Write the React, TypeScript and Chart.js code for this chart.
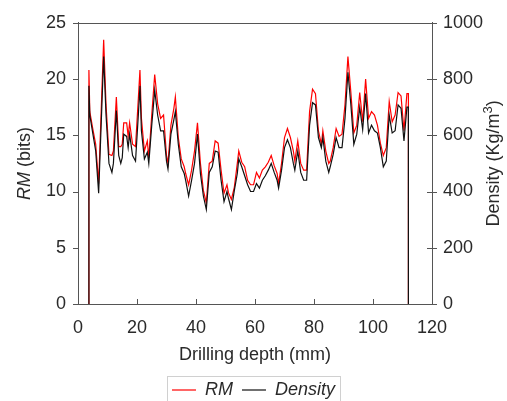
import { useEffect, useRef } from 'react';
import { Chart, registerables } from 'chart.js';

Chart.register(...registerables);

// Drilling depth (mm)
const depth = [3.7, 3.7, 4, 5, 6, 7, 8.7, 9.5, 10.5, 11.5, 12, 13, 13.8, 14.5, 15, 15.5, 16.5, 17, 17.5, 18.5, 19.5, 20.5, 21, 21.5, 22.5, 23.5, 24, 25, 26, 27, 28, 29, 30, 30.5, 31.5, 32.5, 33, 34, 35, 36, 36.5, 37.5, 38.5, 39.5, 40.5, 41.5, 42.5, 43.5, 44.5, 45.5, 46.5, 47.5, 48.5, 49.5, 50.5, 51, 52, 53, 54, 54.5, 55.5, 56.5, 57.5, 58.5, 59.5, 60.5, 61.5, 62.5, 63.5, 64.5, 65.5, 66.5, 67.5, 68, 69, 70, 71, 72, 73, 73.5, 74.5, 75.5, 76.5, 77.5, 78.5, 79.5, 80.5, 81.5, 82.5, 83, 84, 85, 85.5, 86.5, 87.5, 88.5, 89.5, 90.5, 91.5, 92.5, 93.5, 94.5, 95.5, 96.5, 97.5, 98.5, 99.5, 100.5, 101.5, 102.5, 103.5, 104.5, 105.5, 106.5, 107.5, 108.5, 109.5, 110.5, 111.5, 112, 112];

// RM (bits)
const rmValues = [0, 20.8, 17.1, 15.6, 14.2, 10.7, 23.5, 17.7, 13.3, 13.2, 13.6, 18.4, 14.0, 14.0, 14.2, 16.1, 16.1, 14.9, 16.1, 14.2, 14.0, 18.5, 20.8, 16.5, 13.6, 14.5, 13.0, 16.8, 20.4, 17.8, 16.5, 16.8, 13.2, 12.5, 15.9, 17.4, 18.4, 14.8, 12.9, 12.2, 11.6, 10.6, 11.9, 13.6, 16.1, 12.5, 10.1, 9.0, 12.5, 12.7, 14.5, 14.3, 11.9, 9.85, 10.6, 9.9, 9.3, 10.4, 12.5, 13.6, 12.6, 12.2, 11.0, 10.6, 10.6, 11.7, 11.2, 11.9, 12.2, 12.6, 13.2, 12.3, 11.6, 10.7, 12.5, 14.8, 15.6, 14.8, 13.6, 12.7, 14.5, 12.5, 11.9, 11.9, 17.1, 19.1, 18.7, 15.4, 14.2, 15.4, 13.6, 12.5, 12.7, 13.9, 15.6, 14.9, 15.1, 17.7, 22.0, 18.8, 15.2, 15.9, 18.8, 16.2, 20.0, 16.5, 17.1, 16.8, 15.9, 14.3, 13.2, 13.9, 18.0, 16.2, 16.8, 18.8, 18.5, 15.4, 18.7, 18.7, 0];

// Density (Kg/m3)
const densityValues = [0, 776, 672, 608, 544, 394, 880, 672, 500, 468, 500, 688, 528, 500, 520, 604, 596, 556, 604, 528, 508, 680, 776, 616, 516, 540, 500, 636, 760, 672, 616, 616, 508, 480, 604, 656, 684, 568, 488, 464, 440, 384, 440, 500, 604, 464, 384, 336, 468, 488, 544, 540, 440, 364, 400, 376, 336, 404, 464, 516, 488, 456, 424, 400, 400, 428, 412, 440, 456, 476, 500, 468, 440, 412, 476, 556, 584, 556, 500, 476, 544, 468, 440, 440, 636, 716, 708, 592, 556, 592, 508, 468, 488, 532, 592, 556, 556, 660, 824, 708, 568, 604, 700, 620, 748, 608, 636, 616, 608, 556, 488, 508, 672, 608, 616, 708, 696, 580, 700, 700, 0];

const seriesNames = ['RM', 'Density'];

const FONT = "'Liberation Sans', Arial, Helvetica, sans-serif";
const FS = 18;
const TEXT = '#2a2a2a';
const AXIS = '#555555';

const decor = {
  id: 'decor',
  afterDraw(chart: any) {
    const { ctx, chartArea: a, scales } = chart;
    ctx.save();
    ctx.strokeStyle = AXIS;
    ctx.lineWidth = 1;
    ctx.beginPath();
    ctx.moveTo(a.left, Math.round(a.top) + 0.5);
    ctx.lineTo(a.right, Math.round(a.top) + 0.5);
    scales.x.ticks.forEach((t: any) => {
      const px = Math.round(scales.x.getPixelForValue(t.value)) + 0.5;
      ctx.moveTo(px, a.bottom);
      ctx.lineTo(px, a.bottom - 5);
    });
    scales.y.ticks.forEach((t: any) => {
      const py = Math.round(scales.y.getPixelForValue(t.value)) + 0.5;
      ctx.moveTo(a.left - 5, py);
      ctx.lineTo(a.left, py);
    });
    scales.y1.ticks.forEach((t: any) => {
      const py = Math.round(scales.y1.getPixelForValue(t.value)) + 0.5;
      ctx.moveTo(a.right - 5, py);
      ctx.lineTo(a.right + 5, py);
    });
    ctx.stroke();

    // legend frame
    const lg = chart.legend;
    if (lg && lg.legendHitBoxes && lg.legendHitBoxes.length) {
      const hb = lg.legendHitBoxes;
      let l = Infinity, r = -Infinity, t = Infinity;
      hb.forEach((h: any) => {
        l = Math.min(l, h.left);
        r = Math.max(r, h.left + h.width);
        t = Math.min(t, h.top);
      });
      ctx.strokeStyle = '#d0d0d0';
      ctx.strokeRect(Math.round(l - 5) + 0.5, Math.round(t - 5) + 0.5, Math.round(r - l + 10), 30);
    }

    // axis titles
    const cy = (a.top + a.bottom) / 2;
    ctx.fillStyle = TEXT;
    ctx.textBaseline = 'middle';
    ctx.textAlign = 'left';
    // left title: "RM (bits)"
    ctx.save();
    ctx.translate(25, cy);
    ctx.rotate(-Math.PI / 2);
    ctx.font = `italic ${FS}px ${FONT}`;
    const w1 = ctx.measureText('RM').width;
    ctx.font = `${FS}px ${FONT}`;
    const w2 = ctx.measureText(' (bits)').width;
    let x0 = -(w1 + w2) / 2;
    ctx.font = `italic ${FS}px ${FONT}`;
    ctx.fillText('RM', x0, 0);
    ctx.font = `${FS}px ${FONT}`;
    ctx.fillText(' (bits)', x0 + w1, 0);
    ctx.restore();
    // right title: "Density (Kg/m3)"
    ctx.save();
    ctx.translate(494, cy);
    ctx.rotate(-Math.PI / 2);
    ctx.font = `${FS}px ${FONT}`;
    const p1 = 'Density (Kg/m';
    const wa = ctx.measureText(p1).width;
    ctx.font = `13px ${FONT}`;
    const wb = ctx.measureText('3').width;
    ctx.font = `${FS}px ${FONT}`;
    const wc = ctx.measureText(')').width;
    x0 = -(wa + wb + wc) / 2;
    ctx.fillText(p1, x0, 0);
    ctx.font = `13px ${FONT}`;
    ctx.fillText('3', x0 + wa, -6);
    ctx.font = `${FS}px ${FONT}`;
    ctx.fillText(')', x0 + wa + wb, 0);
    ctx.restore();
    ctx.restore();
  },
};

export default function App() {
  const ref = useRef<HTMLCanvasElement>(null);
  useEffect(() => {
    if (!ref.current) return;
    const chart = new Chart(ref.current, {
      type: 'line',
      data: {
        datasets: [
          {
            label: seriesNames[0],
            data: depth.map((d, i) => ({ x: d, y: rmValues[i] })),
            borderColor: '#ff0000',
            backgroundColor: '#ff0000',
            borderWidth: 1.2,
            pointRadius: 0,
            tension: 0,
            yAxisID: 'y',
            order: 1,
          },
          {
            label: seriesNames[1],
            data: depth.map((d, i) => ({ x: d, y: densityValues[i] })),
            borderColor: '#111111',
            backgroundColor: '#111111',
            borderWidth: 1.2,
            pointRadius: 0,
            tension: 0,
            yAxisID: 'y1',
            order: 0,
          },
        ],
      },
      options: {
        animation: false,
        responsive: false,
        devicePixelRatio: 1,
        layout: { padding: { top: 16, left: 0, right: 0, bottom: 0 } },
        plugins: {
          tooltip: { enabled: false },
          legend: {
            position: 'bottom',
            labels: {
              usePointStyle: true,
              pointStyle: 'line',
              pointStyleWidth: 24,
              boxHeight: FS,
              padding: 9,
              color: TEXT,
              font: { family: FONT, size: FS, style: 'italic' },
              sort: (a: any, b: any) => a.datasetIndex - b.datasetIndex,
            },
          },
        },
        scales: {
          x: {
            type: 'linear',
            min: 0,
            max: 120,
            grid: { display: false, drawTicks: false },
            border: { display: true, color: AXIS, width: 1 },
            ticks: { stepSize: 20, padding: 13, color: TEXT, font: { family: FONT, size: FS }, maxRotation: 0, callback: (v: any) => String(v) },
            title: { display: true, text: 'Drilling depth (mm)', color: TEXT, font: { family: FONT, size: FS }, padding: { top: 0, bottom: 6 } },
            afterFit: (s: any) => { s.height = 68; },
          },
          y: {
            position: 'left',
            min: 0,
            max: 25,
            grid: { display: false, drawTicks: false },
            border: { display: true, color: AXIS, width: 1 },
            ticks: { stepSize: 5, padding: 12, color: TEXT, font: { family: FONT, size: FS }, callback: (v: any) => String(v) },
            afterFit: (s: any) => { s.width = 78; },
          },
          y1: {
            position: 'right',
            min: 0,
            max: 1000,
            grid: { display: false, drawTicks: false },
            border: { display: true, color: AXIS, width: 1 },
            ticks: { stepSize: 200, padding: 11, color: TEXT, font: { family: FONT, size: FS }, callback: (v: any) => String(v) },
            afterFit: (s: any) => { s.width = 75; },
          },
        },
      },
      plugins: [decor],
    });
    return () => chart.destroy();
  }, []);
  return (
    <div style={{ position: 'fixed', left: 0, top: 0, width: 507, height: 409, background: '#fff' }}>
      <canvas ref={ref} width={507} height={409} style={{ width: 507, height: 409, display: 'block' }} />
    </div>
  );
}
